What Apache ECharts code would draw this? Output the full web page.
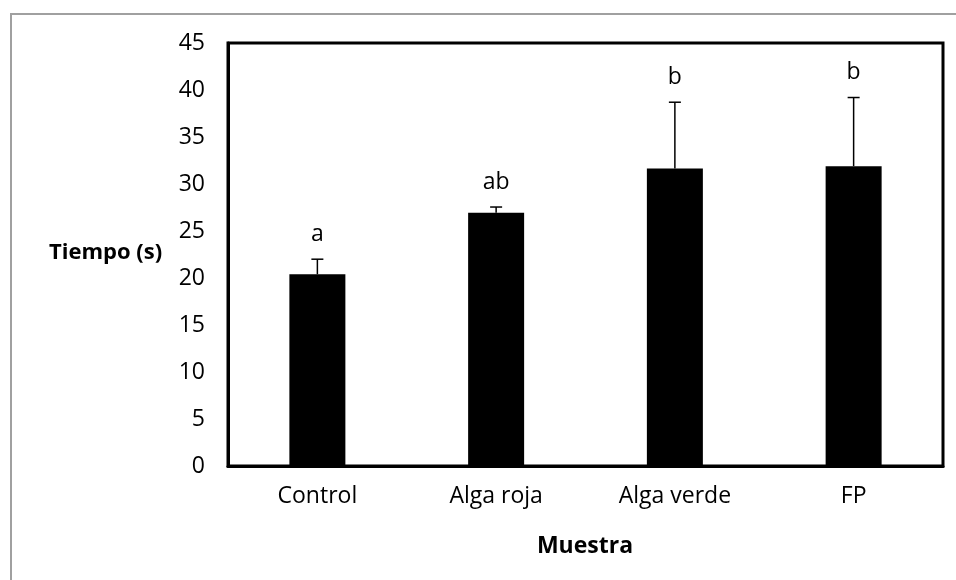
<!DOCTYPE html>
<html>
<head>
<meta charset="utf-8">
<script src="https://cdn.jsdelivr.net/npm/echarts@6/dist/echarts.min.js"></script>
<style>html,body{margin:0;padding:0;background:#fff}#c{width:956px;height:580px}</style>
</head>
<body>
<div id="c"></div>
<script>
var categories = ['Control', 'Alga roja', 'Alga verde', 'FP'];
var means = [20.4, 26.95, 31.65, 31.9];
var errors = [1.6, 0.6, 7.05, 7.3];
var letters = ['a', 'ab', 'b', 'b'];
var yTicks = [0, 5, 10, 15, 20, 25, 30, 35, 40, 45];

var FONT = '"Open Sans", sans-serif';
var chart = echarts.init(document.getElementById('c'), null, {renderer: 'canvas'});
var errData = categories.map(function (c, i) { return [i, means[i], errors[i]]; });

chart.setOption({
  animation: false,
  backgroundColor: '#fff',
  grid: {left: 228, right: 13, top: 43, bottom: 114, show: true, borderColor: '#000', borderWidth: 3, backgroundColor: 'transparent'},
  xAxis: {
    type: 'category', data: categories,
    axisLine: {show: true, lineStyle: {color: '#000', width: 3}},
    axisTick: {show: false},
    axisLabel: {color: '#000', fontFamily: FONT, fontSize: 23, margin: 19}
  },
  yAxis: {
    type: 'value', min: 0, max: 45, interval: 5,
    axisLine: {show: true, lineStyle: {color: '#000', width: 3}},
    axisTick: {show: false},
    splitLine: {show: false},
    axisLabel: {color: '#000', fontFamily: FONT, fontSize: 23, margin: 23,
      formatter: function (v) { return yTicks.indexOf(v) >= 0 ? String(v) : ''; }}
  },
  graphic: [
    {type: 'rect', shape: {x: 11, y: 14, width: 1200, height: 1200}, style: {fill: 'none', stroke: '#a0a0a0', lineWidth: 2}, z: 0},
    {type: 'text', left: 49, top: 242, style: {text: 'Tiempo (s)', font: 'bold 22px ' + FONT, fill: '#000'}},
    {type: 'text', x: 585, y: 546, style: {text: 'Muestra', font: 'bold 23px ' + FONT, fill: '#000', align: 'center', verticalAlign: 'middle'}}
  ],
  series: [
    {type: 'bar', data: means, barWidth: 56, itemStyle: {color: '#000'}, z: 2},
    {
      type: 'custom', data: errData, z: 3,
      renderItem: function (params, api) {
        var x = api.value(0), m = api.value(1), e = api.value(2);
        var base = api.coord([x, m]);
        var top = api.coord([x, m + e]);
        var st = {stroke: '#000', lineWidth: 1.5};
        return {type: 'group', children: [
          {type: 'line', shape: {x1: top[0], y1: base[1], x2: top[0], y2: top[1]}, style: st},
          {type: 'line', shape: {x1: top[0] - 6, y1: top[1], x2: top[0] + 6, y2: top[1]}, style: st},
          {type: 'text', style: {text: letters[params.dataIndex], x: top[0], y: top[1] - 25, align: 'center', verticalAlign: 'middle', font: '23px ' + FONT, fill: '#000'}}
        ]};
      }
    }
  ]
});
</script>
</body>
</html>
